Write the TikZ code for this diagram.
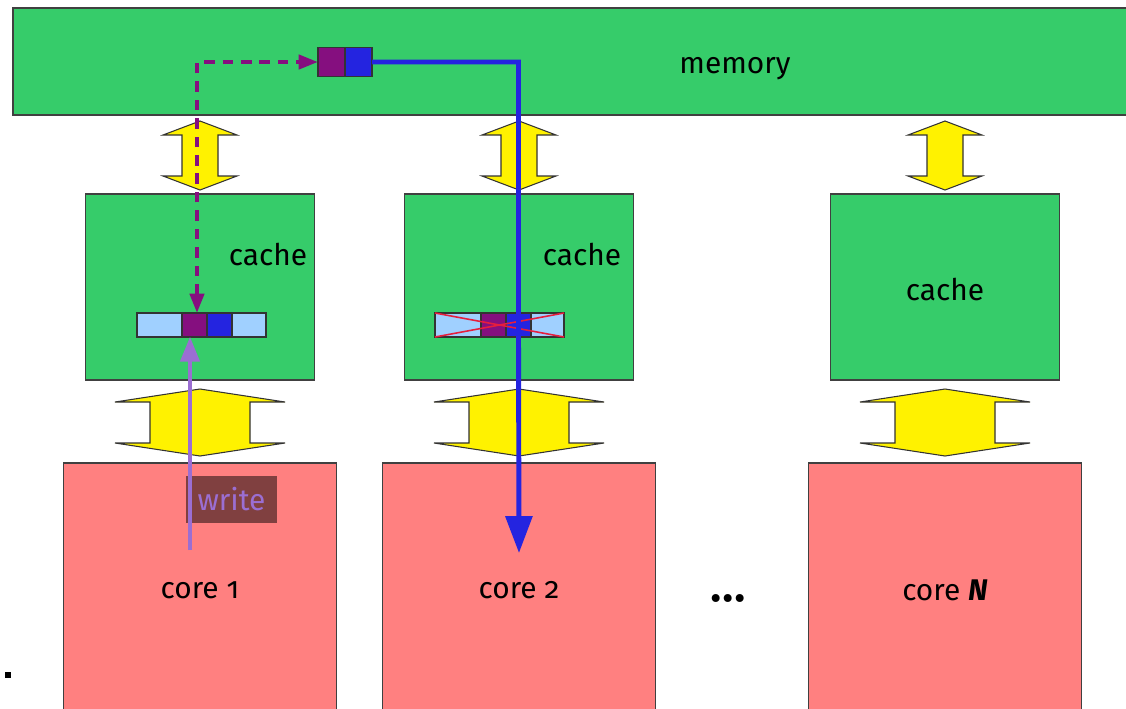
\documentclass[tikz,border=0pt]{standalone}
\usepackage{fontspec}
\setmainfont{Fira Sans}[Numbers=OldStyle]
\usepackage{tikz}
\usetikzlibrary{arrows.meta}
\usetikzlibrary{positioning}

\definecolor{memgreen}{RGB}{54,204,106}
\definecolor{corered}{RGB}{255,128,128}
\definecolor{linelight}{RGB}{160,208,255}
\definecolor{wordpurple}{RGB}{133,15,127}
\definecolor{wordblue}{RGB}{36,36,224}
\definecolor{writelav}{RGB}{155,110,210}
\definecolor{writebox}{RGB}{128,64,64}
\definecolor{crossred}{RGB}{230,30,60}

\tikzset{
  box/.style={draw=black!75, line width=0.7pt, outer sep=0pt, inner sep=0pt},
  cell/.style={draw=black!80, line width=0.8pt, outer sep=0pt, inner sep=0pt, minimum height=0.48cm},
  bus/.style={fill=yellow, draw=black!80, line width=0.6pt},
  lbl/.style={font=\fontsize{17}{20}\selectfont}
}

\newcommand\busarrow[6]{%
  \filldraw[bus] (#1,#2) -- (#1+#4,#2+#6) -- (#1+#5,#2+#6) -- (#1+#5,#3-#6)
    -- (#1+#4,#3-#6) -- (#1,#3) -- (#1-#4,#3-#6) -- (#1-#5,#3-#6)
    -- (#1-#5,#2+#6) -- (#1-#4,#2+#6) -- cycle;}

\begin{document}
\begin{tikzpicture}[x=0.02cm, y=-0.02cm]
  \clip (0,0) rectangle (1126,708);
  \fill[white] (0,0) rectangle (1126,708);

  \node[box, fill=memgreen, minimum width=22.44cm, minimum height=2.14cm] (mem) at (574,61.5) {};
  \node[lbl] (memlbl) at (735,69) {memory};

  \foreach \cx/\n in {200/1, 519/2, 945/3} {
    \busarrow{\cx}{121}{190}{37}{18}{14}
    \busarrow{\cx}{389}{456}{85}{50}{13}
    \node[box, fill=memgreen, minimum width=4.58cm, minimum height=3.72cm] (cache\n) at (\cx,287) {};
    \node[box, fill=corered, minimum width=5.46cm, minimum height=5.94cm] (core\n) at (\cx,611.5) {};
  }
  \node[lbl] (cachelbl1) at (268,254) {cache};
  \node[lbl] (cachelbl2) at (582,254) {cache};
  \node[lbl] (cachelbl3) at (945,289) {cache};
  \node[lbl] (corelbl1) at (200,590) {core 1};
  \node[lbl] (corelbl2) at (519,590) {core 2};
  \node[lbl] (corelbl3) at (945,590) {core \textbf{\textit{N}}};
  \node[font=\fontsize{20}{22}\selectfont] (dots) at (728,603) {\textbullet\hspace{0.5pt}\textbullet\hspace{0.5pt}\textbullet};
  \node[fill=black, minimum size=0.12cm, inner sep=0pt] (mark) at (8,675) {};

  % cache lines
  \node[cell, fill=linelight, anchor=west, minimum width=0.9cm] (l1a) at (137,325) {};
  \node[cell, fill=wordpurple, right=0pt of l1a, minimum width=0.5cm] (l1p) {};
  \node[cell, fill=wordblue, right=0pt of l1p, minimum width=0.5cm] (l1b) {};
  \node[cell, fill=linelight, right=0pt of l1b, minimum width=0.68cm] (l1c) {};
  \node[cell, fill=linelight, anchor=west, minimum width=0.92cm] (l2a) at (435,325) {};
  \node[cell, fill=wordpurple, right=0pt of l2a, minimum width=0.5cm] (l2p) {};
  \node[cell, fill=wordblue, right=0pt of l2p, minimum width=0.5cm] (l2b) {};
  \node[cell, fill=linelight, right=0pt of l2b, minimum width=0.66cm] (l2c) {};
  \draw[crossred, line width=0.9pt] (l2a.north west) -- (l2c.south east);
  \draw[crossred, line width=0.9pt] (l2a.south west) -- (l2c.north east);

  % word in memory
  \node[cell, fill=wordpurple, minimum width=0.54cm, minimum height=0.58cm, anchor=west] (mp) at (318,62) {};
  \node[cell, fill=wordblue, minimum width=0.54cm, minimum height=0.58cm, right=0pt of mp] (mb) {};

  \draw[wordpurple, line width=2.3pt, dash pattern=on 6pt off 4.5pt,
        {Triangle[length=11pt,width=8pt]}-{Triangle[length=11pt,width=8pt]}]
    ([xshift=0.05cm]l1p.north) |- (mp.west);

  \coordinate (bluetip) at (519,553);
  \draw[wordblue, line width=2.8pt, -{Triangle[length=21pt,width=15pt]}]
    (mb.east) -| (l2b.center) -- (bluetip);

  \node[fill=writebox, text=writelav, lbl, minimum width=1.82cm, minimum height=0.94cm] (wbox) at (231.5,499.5) {write};
  \coordinate (wstart) at (190,550);
  \draw[writelav, line width=1.8pt, -{Triangle[length=14pt,width=11pt]}]
    (wstart) -- (wstart |- l1p.south);
\end{tikzpicture}
\end{document}
